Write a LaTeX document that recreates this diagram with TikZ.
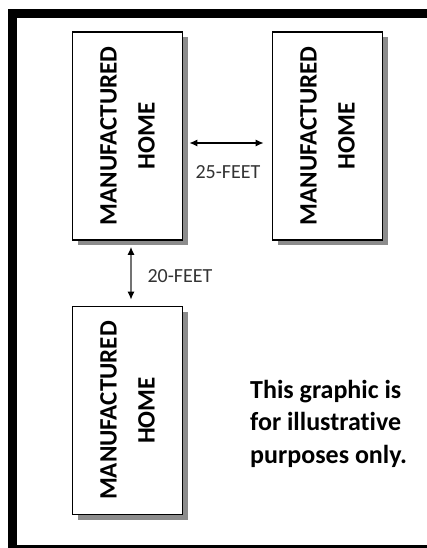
\documentclass[tikz,border=0pt]{standalone}
\usepackage{fontspec}
\setmainfont{Carlito}[Ligatures=NoCommon]
\usetikzlibrary{shadows,arrows.meta}
\begin{document}
\begin{tikzpicture}[x=1pt,y=-1pt,
  home/.style={draw=black, line width=1.6pt, fill=white, minimum width=110pt, minimum height=208pt, inner sep=0pt,
    drop shadow={shadow xshift=5pt, shadow yshift=-5pt, fill=black!45, opacity=1}},
  hometext/.style={rotate=90, align=center, font=\bfseries\fontsize{25}{38}\selectfont, inner sep=0pt},
  dim/.style={{Latex[length=8pt,width=7pt]}-{Latex[length=8pt,width=7pt]}, line width=1.4pt},
  dimlabel/.style={font=\fontsize{20}{24}\selectfont, text=black!80, inner sep=0pt}
]
\useasboundingbox (0,0) rectangle (427,548);
\fill[white] (0,0) rectangle (427,548);
% frame
\fill[black] (8,9) rectangle (427,18);
\fill[black] (8,9) rectangle (17,548);
\fill[black] (17,545) rectangle (427,548);
% homes
\node[home] (b1) at (127.5,136) {};
\node[hometext] (t1) at (b1.center) {MANUFACTURED\\HOME};
\node[home] (b2) at (327.5,136) {};
\node[hometext] (t2) at (b2.center) {MANUFACTURED\\HOME};
\node[home] (b3) at (127.5,410.5) {};
\node[hometext] (t3) at (b3.center) {MANUFACTURED\\HOME};
% dimensions
\draw[dim, shorten <=6pt, shorten >=8pt] ([yshift=-7pt]b1.east) -- ([yshift=-7pt]b2.west);
\node[dimlabel] (l1) at (228,172) {25-FEET};
\draw[dim, draw=black!55, {Latex[length=8pt,width=7pt,fill=black,color=black]}-{Latex[length=8pt,width=7pt,fill=black,color=black]}, shorten <=6pt, shorten >=6pt] ([xshift=3.5pt]b1.south) -- ([xshift=3.5pt]b3.north);
\node[dimlabel] (l2) at (180,276) {20-FEET};
% note
\node[anchor=base west, align=left, inner sep=0pt, font=\bfseries\fontsize{26}{32.5}\selectfont] (note) at (250,463) {This graphic is\\for illustrative\\purposes only.};
\end{tikzpicture}
\end{document}
